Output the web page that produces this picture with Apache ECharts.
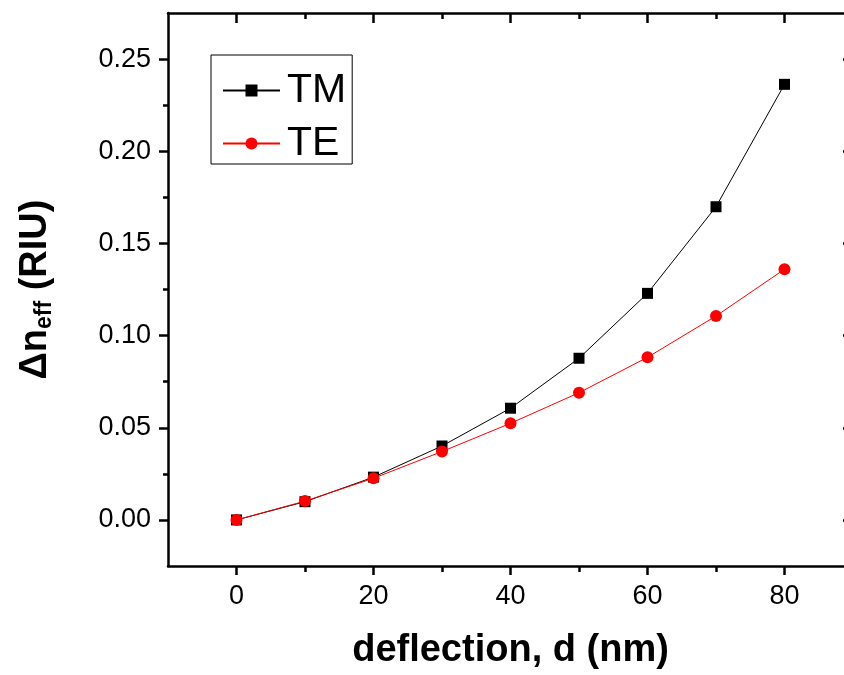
<!DOCTYPE html>
<html>
<head>
<meta charset="utf-8">
<script src="https://cdn.jsdelivr.net/npm/echarts@6/dist/echarts.min.js"></script>
<style>
  html, body { margin: 0; padding: 0; background: #fff; }
  #chartExample { width: 844px; height: 675px; }
</style>
</head>
<body>
<div id="chartExample"></div>
<script>
// 数据
var deflection = [0, 10, 20, 30, 40, 50, 60, 70, 80];
var tmValues = [0.000, 0.0099, 0.0232, 0.0401, 0.0606, 0.0877, 0.1229, 0.1699, 0.2363];
var teValues = [0.000, 0.0102, 0.0226, 0.0371, 0.0524, 0.0690, 0.0882, 0.1106, 0.1360];

var xMajorTicks = [0, 20, 40, 60, 80];
var xMinorTicks = [10, 30, 50, 70];
var yMajorTicks = [0, 0.05, 0.10, 0.15, 0.20, 0.25];
var yMinorTicks = [0.025, 0.075, 0.125, 0.175, 0.225];

function pairs(xs, ys) {
    return xs.map(function (x, i) { return [x, ys[i]]; });
}

var font = 'Liberation Sans, Arial, sans-serif';
var lineW = 2.5;

function xAxisOf(pos, ticks, len, inside, withLine, withLabel) {
    return {
        type: 'value', position: pos, min: -10, max: 90,
        axisLine: { show: withLine, onZero: false, lineStyle: { color: '#000', width: lineW } },
        axisTick: { show: true, inside: inside, length: len, customValues: ticks,
            lineStyle: { color: '#000', width: lineW } },
        axisLabel: withLabel ? { show: true, customValues: ticks, margin: 17,
            color: '#000', fontSize: 27, fontFamily: font } : { show: false },
        splitLine: { show: false }
    };
}

function yAxisOf(pos, ticks, len, inside, withLine, withLabel) {
    return {
        type: 'value', position: pos, min: -0.025, max: 0.275,
        axisLine: { show: withLine, onZero: false, lineStyle: { color: '#000', width: lineW } },
        axisTick: { show: true, inside: inside, length: len, customValues: ticks,
            lineStyle: { color: '#000', width: lineW } },
        axisLabel: withLabel ? { show: true, customValues: ticks, margin: 17,
            color: '#000', fontSize: 27, fontFamily: font,
            formatter: function (v) { return v.toFixed(2); } } : { show: false },
        splitLine: { show: false }
    };
}

var myChart = echarts.init(document.getElementById('chartExample'));

var xBottom = xAxisOf('bottom', xMajorTicks, 9, false, true, true);
xBottom.name = 'deflection, d (nm)';
xBottom.nameLocation = 'middle';
xBottom.nameGap = 66;
xBottom.nameTextStyle = { color: '#000', fontSize: 38, fontWeight: 'bold', fontFamily: font };

var yLeft = yAxisOf('left', yMajorTicks, 9, false, true, true);
yLeft.name = '{m|Δn}{s|eff}{m| (RIU)}';
yLeft.nameLocation = 'middle';
yLeft.nameRotate = 90;
yLeft.nameGap = 112;
yLeft.nameTextStyle = {
    color: '#000', fontFamily: font, fontWeight: 'bold',
    rich: {
        m: { fontSize: 38, fontWeight: 'bold', fontFamily: font, color: '#000', lineHeight: 40 },
        s: { fontSize: 23, fontWeight: 'bold', fontFamily: font, color: '#000', lineHeight: 40, padding: [18, 0, 0, 0] }
    }
};

var option = {
    animation: false,
    backgroundColor: '#fff',
    grid: { left: 168, top: 13, width: 685, height: 553, outerBoundsMode: 'none', containLabel: false },
    legend: {
        data: ['TM', 'TE'],
        orient: 'vertical',
        left: 211, top: 55,
        padding: [15, 6, 0, 11],
        itemGap: 12,
        itemWidth: 57, itemHeight: 15,
        borderColor: '#000', borderWidth: 1,
        textStyle: { color: '#000', fontSize: 41, fontFamily: font, lineHeight: 30, padding: [0, 0, 6, 2] }
    },
    xAxis: [
        xBottom,
        xAxisOf('bottom', xMinorTicks, 6, false, false, false),
        xAxisOf('top', xMajorTicks, 10, true, true, false),
        xAxisOf('top', xMinorTicks, 6, true, false, false)
    ],
    yAxis: [
        yLeft,
        yAxisOf('left', yMinorTicks, 5, false, false, false),
        yAxisOf('right', yMajorTicks, 10, true, true, false),
        yAxisOf('right', yMinorTicks, 6, true, false, false)
    ],
    series: [
        {
            name: 'TM', type: 'line', xAxisIndex: 0, yAxisIndex: 0,
            data: pairs(deflection, tmValues),
            symbol: 'rect', symbolSize: 11, showAllSymbol: true,
            itemStyle: { color: '#000' },
            lineStyle: { color: '#000', width: 1 }
        },
        {
            name: 'TE', type: 'line', xAxisIndex: 0, yAxisIndex: 0,
            data: pairs(deflection, teValues),
            symbol: 'circle', symbolSize: 12, showAllSymbol: true,
            itemStyle: { color: '#ff0000' },
            lineStyle: { color: '#ff0000', width: 1 }
        }
    ]
};

myChart.setOption(option);
</script>
</body>
</html>
